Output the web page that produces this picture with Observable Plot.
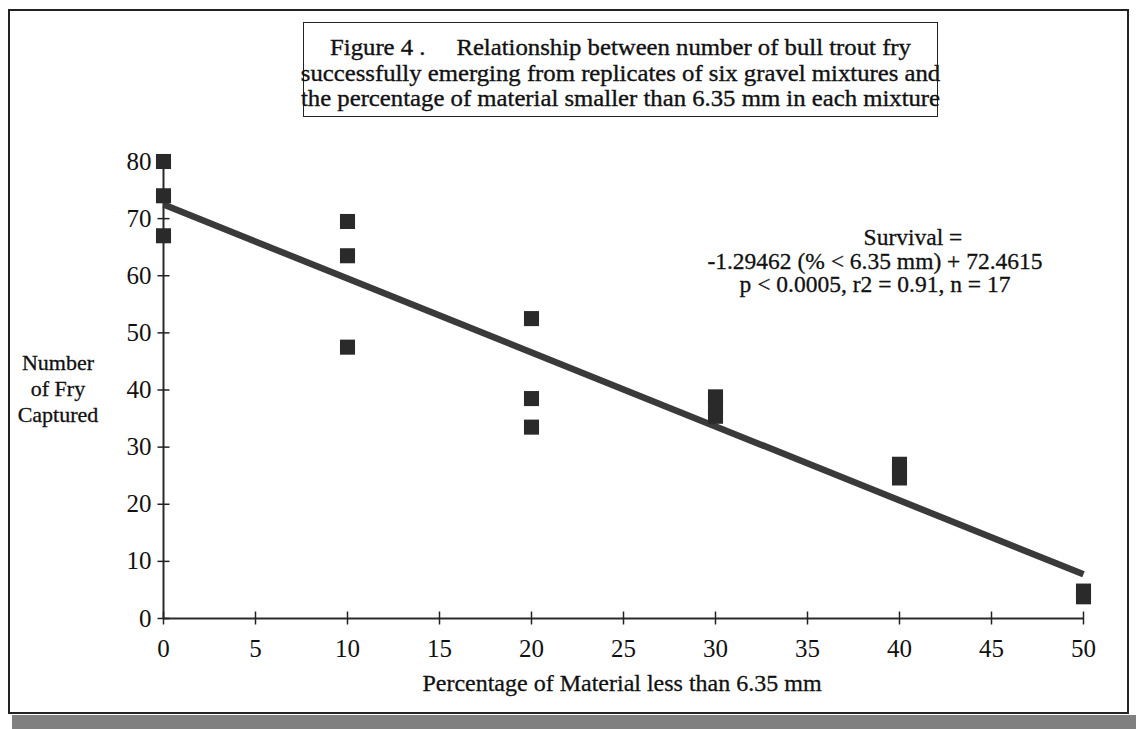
<!DOCTYPE html>
<html>
<head>
<meta charset="utf-8">
<script src="https://cdn.jsdelivr.net/npm/d3@7"></script>
<script src="https://cdn.jsdelivr.net/npm/@observablehq/plot@0.6"></script>
<style>
  html, body { margin: 0; padding: 0; background: #fff; }
  #wrap { position: relative; width: 1136px; height: 729px; overflow: hidden; font-family: "Liberation Serif", "Times New Roman", serif; color: #111; }
  #wrap svg { position: absolute; left: 0; top: 0; }
  #wrap svg text { -webkit-text-stroke: 0.35px #111; }
  .frame { position: absolute; left: 8px; top: 9px; width: 1117px; height: 701px; border: 2px solid #222; }
  .shadow { position: absolute; left: 12px; top: 715px; width: 1124px; height: 14px; background: #808080; }
  .titlebox { position: absolute; left: 303px; top: 22px; width: 633px; height: 93px; border: 1.5px solid #222; text-align: center; font-size: 23px; line-height: 25.5px; white-space: pre; -webkit-text-stroke: 0.35px #111; }
  .titlebox .inner { position: absolute; left: 0; right: 0; top: 12px; transform: scaleX(1.075); transform-origin: 50% 0; }
  .eq { position: absolute; left: 665px; top: 226px; width: 420px; text-align: center; font-size: 23.5px; line-height: 23.5px; -webkit-text-stroke: 0.3px #111; }
  .eq .l1 { padding-left: 76px; }
  .ylab { position: absolute; left: 8px; top: 350px; width: 100px; text-align: center; font-size: 22px; line-height: 26px; -webkit-text-stroke: 0.3px #111; }
  .xlab { position: absolute; left: 322px; top: 669px; width: 600px; text-align: center; font-size: 24px; line-height: 28px; -webkit-text-stroke: 0.3px #111; }
</style>
</head>
<body>
<div id="wrap">
  <div class="frame"></div>
  <div class="shadow"></div>
</div>
<script>
// Data
const pctFines    = [0, 0, 0, 10, 10, 10, 20, 20, 20, 30, 30, 30, 40, 40, 40, 50, 50];
const fryCaptured = [80, 74, 67, 69.5, 63.5, 47.5, 52.5, 38.5, 33.5, 38.8, 37.1, 35.4, 27, 25.8, 24.6, 4.8, 3.8];
const xTicks = [0, 5, 10, 15, 20, 25, 30, 35, 40, 45, 50];
const yTicks = [0, 10, 20, 30, 40, 50, 60, 70, 80];
const slope = -1.29462;
const intercept = 72.4615;
const fitX = [0, 50];
const titleLines = ["Figure 4 .     Relationship between number of bull trout fry",
                    "successfully emerging from replicates of six gravel mixtures and",
                    "the percentage of material smaller than 6.35 mm in each mixture"];
const eqLines = ["Survival =", "-1.29462 (% < 6.35 mm) + 72.4615", "p < 0.0005, r2 = 0.91, n = 17"];
const yLabelLines = ["Number", "of Fry", "Captured"];
const xLabel = "Percentage of Material less than 6.35 mm";

const points = pctFines.map((x, i) => ({x, y: fryCaptured[i]}));
const fit = fitX.map(x => ({x, y: slope * x + intercept}));

const vTick = { draw(ctx, size) { ctx.moveTo(0, -7); ctx.lineTo(0, 6); } };
const hTick = { draw(ctx, size) { ctx.moveTo(-6, 0); ctx.lineTo(6, 0); } };

const chart = Plot.plot({
  width: 1136,
  height: 729,
  marginLeft: 163,
  marginRight: 53,
  marginTop: 161,
  marginBottom: 111,
  style: { fontFamily: "Liberation Serif, Times New Roman, serif", fontSize: "25px", color: "#111", background: "transparent" },
  x: { domain: [0, 50], ticks: xTicks, tickSize: 0, tickPadding: 21, label: null },
  y: { domain: [0, 80], ticks: yTicks, tickSize: 0, tickPadding: 12, label: null },
  marks: [
    Plot.ruleX([0], {stroke: "#2a2a2a", strokeWidth: 2}),
    Plot.ruleY([0], {stroke: "#2a2a2a", strokeWidth: 2}),
    Plot.dot(xTicks, {x: d => d, y: () => 0, symbol: vTick, stroke: "#222", strokeWidth: 1.5, fill: "none"}),
    Plot.dot(yTicks, {x: () => 0, y: d => d, symbol: hTick, stroke: "#222", strokeWidth: 1.5, fill: "none"}),
    Plot.line(fit, {x: "x", y: "y", stroke: "#3a3a3a", strokeWidth: 6.5, strokeLinecap: "butt"}),
    Plot.dot(points, {x: "x", y: "y", symbol: "square", r: 8.5, fill: "#2a2a2a", stroke: "none"})
  ]
});

const wrap = document.getElementById("wrap");
wrap.appendChild(chart);

const esc = s => s.replace(/&/g, "&amp;").replace(/</g, "&lt;");

const tb = document.createElement("div");
tb.className = "titlebox";
tb.innerHTML = '<div class="inner">' + titleLines.map(esc).join("\n") + '</div>';
wrap.appendChild(tb);

const eq = document.createElement("div");
eq.className = "eq";
eq.innerHTML = eqLines.map((s, i) => '<div class="l' + (i + 1) + '">' + esc(s) + '</div>').join("");
wrap.appendChild(eq);

const yl = document.createElement("div");
yl.className = "ylab";
yl.innerHTML = yLabelLines.map(esc).join("<br>");
wrap.appendChild(yl);

const xl = document.createElement("div");
xl.className = "xlab";
xl.textContent = xLabel;
wrap.appendChild(xl);
</script>
</body>
</html>
